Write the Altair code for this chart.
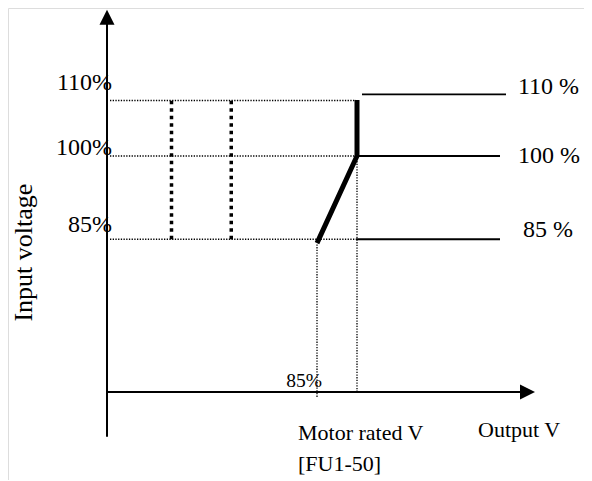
import altair as alt
import pandas as pd

# ---- coordinate system: x = output voltage (% of motor rated V), y = input voltage (%)
X_DOMAIN = [-39.6, 190.8]
Y_TOP = 126.67
H = 472
Y_DOMAIN = [Y_TOP - H / 5.55, Y_TOP]

# axes (origin at output 0 %, input 57.5 %)
axis_origin_x = 0
axis_origin_y = 57.5
y_axis_bottom = 49.4
y_axis_top = 124.0
x_axis_end = 166.0
y_arrow_pos = 125.0
x_arrow_pos = 168.2

# input-voltage levels
levels = [110, 100, 85]
guide_end_x = [99.6, 99.6, 99.6]

# thick dotted vertical markers
marker_x = [25.8, 49.7]
marker_y_top = 110
marker_y_bottom = 85

# thin dotted verticals
vguide_x = [84, 100]
vguide_top = [84.3, 100]
vguide_bottom = [56.6, 57.5]

# solid output lines at right
out_levels = [111.1, 100, 85]
out_start = [102, 100, 99.6]
out_end = [159.6, 157.2, 157.2]

# bold characteristic
path_x = [84, 100, 100]
path_y = [84.3, 100, 110.1]

# labels
left_labels = ["110%", "100%", "85%"]
left_label_y = [111.9, 100.2, 86.3]
left_label_x = 2.0
right_labels = ["110 %", "100 %", "85 %"]
right_label_x = [164.4, 164.4, 166.4]
right_label_y = [111.2, 98.7, 85.4]

FONT = "Liberation Serif"

xs = alt.Scale(domain=X_DOMAIN, nice=False, zero=False)
ys = alt.Scale(domain=Y_DOMAIN, nice=False, zero=False)


def X(f="x"):
    return alt.X(f, type="quantitative", scale=xs, axis=None)


def Y(f="y"):
    return alt.Y(f, type="quantitative", scale=ys, axis=None)


axes_df = pd.DataFrame({
    "x": [axis_origin_x, axis_origin_x],
    "y": [y_axis_bottom, axis_origin_y],
    "x2": [axis_origin_x, x_axis_end],
    "y2": [y_axis_top, axis_origin_y],
})
axes = alt.Chart(axes_df).mark_rule(color="black", strokeWidth=2).encode(
    x=X(), y=Y(), x2="x2", y2="y2")

yarrow = alt.Chart(pd.DataFrame({"x": [axis_origin_x], "y": [y_arrow_pos]})).mark_point(
    shape="M0,-1L1,1L-1,1Z", filled=True, size=225, color="black", opacity=1,
    strokeWidth=0).encode(x=X(), y=Y())
xarrow = alt.Chart(pd.DataFrame({"x": [x_arrow_pos], "y": [axis_origin_y]})).mark_point(
    shape="M1,0L-1,-1L-1,1Z", filled=True, size=225, color="black", opacity=1,
    strokeWidth=0).encode(x=X(), y=Y())

hg_df = pd.DataFrame({"x": [1.2] * 3, "x2": guide_end_x, "y": levels})
hguides = alt.Chart(hg_df).mark_rule(color="black", strokeWidth=1.3, strokeDash=[1.3, 1.4]).encode(
    x=X(), x2="x2", y=Y())

vg_df = pd.DataFrame({"x": vguide_x, "y": vguide_bottom, "y2": vguide_top})
vguides = alt.Chart(vg_df).mark_rule(color="black", strokeWidth=1.3, strokeDash=[1.3, 1.4]).encode(
    x=X(), y=Y(), y2="y2")

mk_df = pd.DataFrame({"x": marker_x, "y": [marker_y_bottom] * 2, "y2": [marker_y_top] * 2})
markers = alt.Chart(mk_df).mark_rule(color="black", strokeWidth=3.5, strokeDash=[3.5, 4]).encode(
    x=X(), y=Y(), y2="y2")

out_df = pd.DataFrame({"x": out_start, "x2": out_end, "y": out_levels})
outs = alt.Chart(out_df).mark_rule(color="black", strokeWidth=1.8).encode(
    x=X(), x2="x2", y=Y())

path_df = pd.DataFrame({"x": path_x, "y": path_y, "o": [0, 1, 2]})
path = alt.Chart(path_df).mark_line(color="black", strokeWidth=5, strokeJoin="miter").encode(
    x=X(), y=Y(), order="o:Q")

ll_df = pd.DataFrame({"x": [left_label_x] * 3, "y": left_label_y, "t": left_labels})
ll = alt.Chart(ll_df).mark_text(font=FONT, fontSize=24, align="right", baseline="alphabetic",
                                color="black").encode(x=X(), y=Y(), text="t:N")

rl_df = pd.DataFrame({"x": right_label_x, "y": right_label_y, "t": right_labels})
rl = alt.Chart(rl_df).mark_text(font=FONT, fontSize=24, align="left", baseline="alphabetic",
                                color="black").encode(x=X(), y=Y(), text="t:N")

misc_df = pd.DataFrame({
    "x": [76.4, 148.4, 76.4],
    "y": [48.8, 49.4, 43.3],
    "t": ["Motor rated V", "Output V", "[FU1-50]"],
})
misc = alt.Chart(misc_df).mark_text(font=FONT, fontSize=22, align="left", baseline="alphabetic",
                                    color="black").encode(x=X(), y=Y(), text="t:N")

p85 = alt.Chart(pd.DataFrame({"x": [86.0], "y": [58.4], "t": ["85%"]})).mark_text(
    font=FONT, fontSize=19.5, align="right", baseline="alphabetic", color="black").encode(
    x=X(), y=Y(), text="t:N")

ytitle = alt.Chart(pd.DataFrame({"x": [-30.0], "y": [82.6], "t": ["Input voltage"]})).mark_text(
    font=FONT, fontSize=26, align="center", baseline="alphabetic", angle=270, color="black").encode(
    x=X(), y=Y(), text="t:N")

chart = alt.layer(
    hguides, vguides, markers, outs, axes, yarrow, xarrow, path, ll, rl, misc, p85, ytitle
).properties(
    width=576, height=H, padding=0, autosize=alt.AutoSizeParams(type="none")
).configure_view(stroke=None).configure(background="white")

chart.save("out.html", embed_options={"renderer": "svg", "actions": False})
